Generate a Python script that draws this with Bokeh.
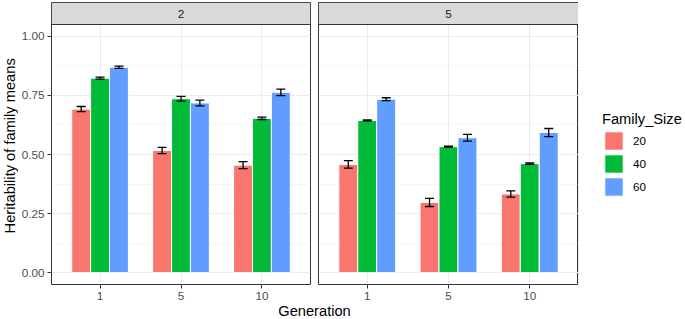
import math
from bokeh.plotting import figure
from bokeh.models import (Range1d, FixedTicker, BoxAnnotation, Label, Whisker, TeeHead,
                          ColumnDataSource, Legend, LegendItem, NumeralTickFormatter)
from bokeh.layouts import row, column
from bokeh.embed import file_html
from bokeh.resources import INLINE

FONT = "Liberation Sans"

# ---- data ----
facets = ["2", "5"]
generations = ["1", "5", "10"]
family_sizes = ["20", "40", "60"]
colors = ["#F8766D", "#00BA38", "#619CFF"]

h2_f2_s20 = [0.692, 0.517, 0.455]
h2_f2_s40 = [0.823, 0.736, 0.653]
h2_f2_s60 = [0.869, 0.718, 0.763]
h2_f5_s20 = [0.458, 0.297, 0.333]
h2_f5_s40 = [0.644, 0.533, 0.461]
h2_f5_s60 = [0.734, 0.571, 0.593]

se_f2_s20 = [0.011, 0.013, 0.015]
se_f2_s40 = [0.004, 0.010, 0.005]
se_f2_s60 = [0.005, 0.012, 0.014]
se_f5_s20 = [0.016, 0.017, 0.013]
se_f5_s40 = [0.002, 0.002, 0.003]
se_f5_s60 = [0.006, 0.014, 0.017]

y_ticks = [0.0, 0.25, 0.5, 0.75, 1.0]
y_minor = [0.125, 0.375, 0.625, 0.875]

data = {
    "2": [(h2_f2_s20, se_f2_s20), (h2_f2_s40, se_f2_s40), (h2_f2_s60, se_f2_s60)],
    "5": [(h2_f5_s20, se_f5_s20), (h2_f5_s40, se_f5_s40), (h2_f5_s60, se_f5_s60)],
}

# ---- layout constants ----
PANEL_W = 260
STRIP_PX = 22
PANEL_PX = 260
TOP_B = 2
BOT_B = 19
FIG_H = TOP_B + STRIP_PX + PANEL_PX + BOT_B
Y0, Y1 = -0.05, 1.05
Y_TOP = Y1 + STRIP_PX * (Y1 - Y0) / PANEL_PX
DODGE = 0.7 / 3
GAP = 4
YLAB_W = 18
LEFT_W = 32
LEG_W = 106
XLAB_H = 15


def make_panel(facet, width, left, right, show_y):
    p = figure(width=width, height=FIG_H, x_range=Range1d(0.4, 3.6), y_range=Range1d(Y0, Y_TOP),
               output_backend="svg", toolbar_location=None,
               min_border_left=left, min_border_right=right, min_border_top=TOP_B,
               min_border_bottom=BOT_B, y_axis_location="left" if show_y else None)
    p.background_fill_color = "white"
    p.border_fill_color = "white"
    p.outline_line_color = "#333333"
    p.outline_line_width = 1

    xt = list(range(1, len(generations) + 1))
    p.xaxis.ticker = FixedTicker(ticks=xt)
    p.xaxis.major_label_overrides = {t: g for t, g in zip(xt, generations)}
    axes = [p.xaxis[0]]
    if show_y:
        p.yaxis.ticker = FixedTicker(ticks=y_ticks, minor_ticks=y_minor)
        p.yaxis.formatter = NumeralTickFormatter(format="0.00")
        axes.append(p.yaxis[0])
    for ax in axes:
        ax.axis_line_color = None
        ax.major_tick_line_color = "#333333"
        ax.major_tick_out = 4
        ax.major_tick_in = 0
        ax.minor_tick_line_color = None
        ax.major_label_text_font = FONT
        ax.major_label_text_font_size = "11.7px"
        ax.major_label_text_color = "#4D4D4D"
        ax.major_label_standoff = 3

    p.xgrid.ticker = FixedTicker(ticks=xt)
    p.xgrid.grid_line_color = "#EBEBEB"
    p.xgrid.grid_line_width = 1
    p.ygrid.ticker = FixedTicker(ticks=y_ticks, minor_ticks=y_minor)
    p.ygrid.grid_line_color = "#EBEBEB"
    p.ygrid.grid_line_width = 1
    p.ygrid.minor_grid_line_color = "#EBEBEB"
    p.ygrid.minor_grid_line_width = 0.5

    sources = []
    for i, (size, col) in enumerate(zip(family_sizes, colors)):
        h2, se = data[facet][i]
        xs = [k + 1 + (i - 1) * DODGE for k in range(len(generations))]
        src = ColumnDataSource(dict(x=xs, top=h2,
                                    lower=[v - s for v, s in zip(h2, se)],
                                    upper=[v + s for v, s in zip(h2, se)]))
        sources.append(src)
        p.vbar(x="x", top="top", bottom=0, width=DODGE, source=src,
               fill_color=col, line_color="white", line_width=1)
        w = Whisker(base="x", lower="lower", upper="upper", source=src,
                    line_color="black", line_width=1.3, level="overlay",
                    upper_head=TeeHead(size=9, line_color="black", line_width=1.3),
                    lower_head=TeeHead(size=9, line_color="black", line_width=1.3))
        p.add_layout(w)

    strip = BoxAnnotation(bottom=Y1, fill_color="#D9D9D9", fill_alpha=1,
                          line_color="#333333", line_alpha=1, line_width=1)
    p.add_layout(strip)
    p.add_layout(Label(x=2, y=(Y1 + Y_TOP) / 2, text=facet, text_align="center",
                       text_baseline="middle", text_font=FONT, text_font_size="11.7px",
                       text_color="#1A1A1A"))
    return p, sources


# y-axis title holder
py = figure(width=YLAB_W, height=FIG_H, x_range=Range1d(0, YLAB_W), y_range=Range1d(0, FIG_H),
            output_backend="svg", toolbar_location=None, min_border=0,
            x_axis_location=None, y_axis_location=None)
py.grid.visible = False
py.outline_line_color = None
py.add_layout(Label(x=YLAB_W / 2, y=BOT_B + PANEL_PX / 2, text="Heritability of family means",
                    angle=math.pi / 2, text_align="center", text_baseline="middle",
                    text_font=FONT, text_font_size="14.67px", text_color="black"))

p1, _ = make_panel(facets[0], LEFT_W + PANEL_W + GAP, LEFT_W, GAP, True)
p2, srcs2 = make_panel(facets[1], GAP + PANEL_W, GAP, 0, False)

# legend figure (its bars lie outside its visible range; only the legend shows)
pl = figure(width=LEG_W, height=FIG_H, x_range=Range1d(100, 101), y_range=Range1d(0, 1),
            output_backend="svg", toolbar_location=None, min_border=0,
            x_axis_location=None, y_axis_location=None)
pl.grid.visible = False
pl.outline_line_color = None
leg_rs = []
for src, col in zip(srcs2, colors):
    leg_rs.append(pl.vbar(x="x", top="top", bottom=0, width=DODGE, source=src,
                          fill_color=col, line_color="white", line_width=1))
legend = Legend(items=[LegendItem(label=s, renderers=[r]) for s, r in zip(family_sizes, leg_rs)],
                title="Family_Size", location=(24, 86))
legend.title_text_font = FONT
legend.title_text_font_size = "14.67px"
legend.title_text_font_style = "normal"
legend.title_text_color = "black"
legend.title_standoff = 2
legend.label_text_font = FONT
legend.label_text_font_size = "11.7px"
legend.label_text_color = "black"
legend.label_standoff = 8
legend.glyph_width = 23
legend.glyph_height = 23
legend.spacing = 0
legend.padding = 0
legend.margin = 0
legend.border_line_color = None
legend.background_fill_alpha = 0
pl.add_layout(legend)

total_w = py.width + p1.width + p2.width + pl.width
p3 = figure(width=total_w, height=XLAB_H, x_range=Range1d(0, total_w), y_range=Range1d(0, XLAB_H),
            output_backend="svg", toolbar_location=None, min_border=0,
            x_axis_location=None, y_axis_location=None)
p3.grid.visible = False
p3.outline_line_color = None
p3.add_layout(Label(x=YLAB_W + LEFT_W + PANEL_W + GAP, y=XLAB_H / 2, text="Generation",
                    text_align="center", text_baseline="middle", text_font=FONT,
                    text_font_size="14.67px", text_color="black"))

layout = column(row(py, p1, p2, pl), p3)
open("out.html", "w").write(file_html(layout, INLINE))
